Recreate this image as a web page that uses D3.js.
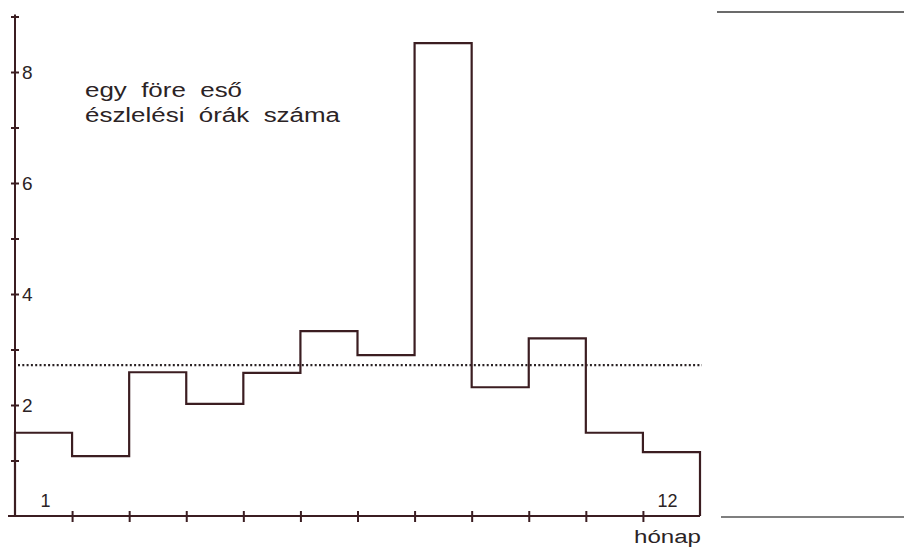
<!DOCTYPE html>
<html lang="hu">
<head>
<meta charset="utf-8">
<title>Észlelési órák</title>
<script src="https://d3js.org/d3.v7.min.js"></script>
<style>
  body { margin: 0; background: #fff; }
  text { font-family: "Liberation Sans", Arial, Helvetica, sans-serif; fill: #2b2325; }
</style>
</head>
<body>
<svg id="chart"></svg>
<script>
    // monthly values
    const months = [1, 2, 3, 4, 5, 6, 7, 8, 9, 10, 11, 12];
    const hours = [1.5, 1.08, 2.59, 2.02, 2.58, 3.33, 2.9, 8.52, 2.32, 3.2, 1.5, 1.15];
    const average = 2.72;
    const yTicks = [1, 2, 3, 4, 5, 6, 7, 8, 9];
    const yLabels = [2, 4, 6, 8];
    const titleLines = ["egy  före  eső", "észlelési  órák  száma"];
    const titleWidths = [157, 255];

    const width = 904, height = 550;
    const ink = "#3b1d21";

    let svg = d3.select("#chart")
        .attr("width", width)
        .attr("height", height);

    let x = d3.scaleLinear().domain([0, 12]).range([15, 700]);
    let y = d3.scaleLinear().domain([0, 9]).range([516, 16.5]);

    // y axis, ticks cross the line
    let yAxis = svg.append("g")
        .attr("transform", `translate(${x(0)},0)`)
        .call(d3.axisLeft(y).tickValues(yTicks).tickSize(4)
            .tickFormat(d => yLabels.includes(d) ? d : ""));
    yAxis.select(".domain").remove();
    yAxis.selectAll(".tick line").attr("x1", -4).attr("x2", 4)
        .attr("stroke", ink).attr("stroke-width", 2);
    yAxis.selectAll(".tick text")
        .attr("x", 7).attr("text-anchor", "start")
        .attr("font-size", 19).attr("font-family", null).attr("fill", null);
    yAxis.append("line")
        .attr("y1", y(0)).attr("y2", y(9) - 2)
        .attr("stroke", ink).attr("stroke-width", 2);

    // x axis
    let xAxis = svg.append("g")
        .attr("transform", `translate(0,${y(0)})`)
        .call(d3.axisBottom(x).tickValues(d3.range(1, 12)).tickSize(6).tickFormat(""));
    xAxis.select(".domain").remove();
    xAxis.selectAll(".tick line").attr("y1", -5).attr("y2", 6)
        .attr("stroke", ink).attr("stroke-width", 2);
    xAxis.append("line")
        .attr("x1", x(0) - 7).attr("x2", x(12))
        .attr("stroke", ink).attr("stroke-width", 2);

    // average, dotted
    svg.append("line")
        .attr("x1", x(0) + 3).attr("x2", x(12) + 2)
        .attr("y1", y(average)).attr("y2", y(average))
        .attr("stroke", "#2a2224").attr("stroke-width", 2.2)
        .attr("stroke-dasharray", "2 2.3");

    // step outline of the monthly bars
    let pts = [[0, 0]];
    hours.forEach((v, i) => { pts.push([i, v]); pts.push([i + 1, v]); });
    pts.push([12, 0]);
    let line = d3.line().x(d => x(d[0])).y(d => y(d[1]));
    svg.append("path")
        .attr("d", line(pts))
        .attr("fill", "none")
        .attr("stroke", ink)
        .attr("stroke-width", 2.2)
        .attr("stroke-linejoin", "miter");

    // labels
    svg.append("text").attr("x", x(0.5) + 2).attr("y", 507)
        .attr("font-size", 18).attr("text-anchor", "middle").text(months[0]);
    svg.append("text").attr("x", x(11.5) - 4).attr("y", 507)
        .attr("font-size", 18).attr("text-anchor", "middle").text(months[11]);
    svg.append("text").attr("x", 634).attr("y", 543)
        .attr("font-size", 18).attr("textLength", 67).attr("lengthAdjust", "spacingAndGlyphs")
        .text("hónap");

    svg.selectAll(".title").data(titleLines).enter().append("text")
        .attr("class", "title")
        .attr("x", 85)
        .attr("y", (d, i) => 97 + i * 25)
        .attr("font-size", 20)
        .attr("textLength", (d, i) => titleWidths[i])
        .attr("lengthAdjust", "spacingAndGlyphs")
        .attr("xml:space", "preserve")
        .style("white-space", "pre")
        .text(d => d);

    // edge of the facing page
    svg.append("line").attr("x1", 717).attr("x2", 904).attr("y1", 12).attr("y2", 12)
        .attr("stroke", "#3a3a3a").attr("stroke-width", 1.6);
    svg.append("line").attr("x1", 721).attr("x2", 904).attr("y1", 517).attr("y2", 517)
        .attr("stroke", "#555").attr("stroke-width", 1.4);
</script>
</body>
</html>
